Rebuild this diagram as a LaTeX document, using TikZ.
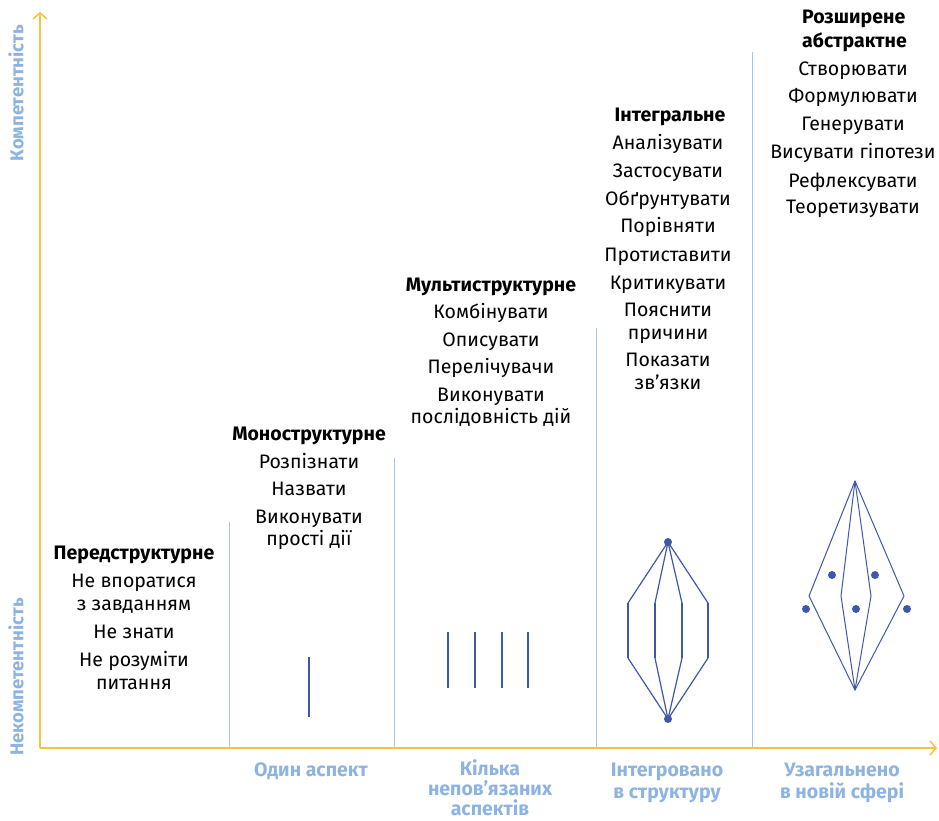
\documentclass[tikz,border=0pt]{standalone}
\usepackage{fontspec}
\setmainfont{Fira Sans}
\usetikzlibrary{arrows.meta}
\definecolor{axisyellow}{HTML}{F5C242}
\definecolor{labblue}{HTML}{8DB3E2}
\definecolor{divblue}{HTML}{A9C6E8}
\definecolor{shapeblue}{HTML}{3F57A8}
\tikzset{
 item/.style={font=\fontsize{19.5}{22}\selectfont, text=black, anchor=base, inner sep=0pt},
 head/.style={item, font=\bfseries\fontsize{19.5}{22}\selectfont},
 axlab/.style={text=labblue, font=\bfseries\fontsize{19.5}{22}\selectfont, anchor=base, inner sep=0pt},
 sidelab/.style={text=labblue, font=\bfseries\fontsize{18.5}{20}\selectfont, rotate=90, inner sep=0pt},
 divider/.style={draw=divblue, line width=0.8pt},
 shp/.style={draw=shapeblue, line width=1.2pt},
 shpthick/.style={draw=shapeblue, line width=2pt},
 dotnode/.style={circle, fill=shapeblue, inner sep=0pt, minimum size=8pt},
 axis/.style={draw=axisyellow, line width=1.3pt, -{Straight Barb[length=6pt,width=14pt,line width=1.5pt]}}
}
\begin{document}
\begin{tikzpicture}[x=1pt,y=-1pt]
\useasboundingbox (0,0) rectangle (939,821);
% axes
\coordinate (O) at (40,748);
\coordinate (Ytop) at (40,12);
\coordinate (Xend) at (937,748);
\draw[axis] (O) -- (Ytop);
\draw[axis] (O) -- (Xend);
% dividers
\foreach \n/\x/\y in {d1/229/522, d2/394/458, d3/596/328, d4/752/52}{
  \coordinate (\n a) at (\x,\y);
  \coordinate (\n b) at (\x,747);
  \draw[divider] (\n a) -- (\n b);
}
% side labels
\node[sidelab] (comp) at (16,93) {Компетентність};
\node[sidelab] (incomp) at (16,677) {Некомпетентність};
% bottom labels
\node[axlab] (b1) at (311,776) {Один аспект};
\node[axlab] (b2a) at (490,775) {Кілька};
\node[axlab] (b2b) at (490,795) {непов’язаних};
\node[axlab] (b2c) at (490,815) {аспектів};
\node[axlab] (b3a) at (667,776) {Інтегровано};
\node[axlab] (b3b) at (667,798) {в структуру};
\node[axlab] (b4a) at (842,776) {Узагальнено};
\node[axlab] (b4b) at (842,798) {в новій сфері};
% block 1
\node[head] (h1) at (134,559) {Передструктурне};
\foreach \i/\y/\t in {1/587/Не впоратися, 2/610/з завданням, 3/638/Не знати, 4/666/Не розуміти, 5/689/питання}{
  \node[item] (a\i) at (134,\y) {\t};
}
% block 2
\node[head] (h2) at (309,440) {Моноструктурне};
\foreach \i/\y/\t in {1/468/Розпізнати, 2/495/Назвати, 3/523/Виконувати, 4/545/прості дії}{
  \node[item] (m\i) at (309,\y) {\t};
}
% block 3
\node[head] (h3) at (491,291) {Мультиструктурне};
\foreach \i/\y/\t in {1/318/Комбінувати, 2/346/Описувати, 3/373/Перелічувачи, 4/401/Виконувати, 5/423/послідовність дій}{
  \node[item] (u\i) at (491,\y) {\t};
}
% block 4
\node[head] (h4) at (670,122) {Інтегральне};
\foreach \i/\y/\t in {1/150/Аналізувати, 2/178/Застосувати, 3/205/Обґрунтувати, 4/233/Порівняти, 5/261/Протиставити, 6/289/Критикувати, 7/316/Пояснити, 8/339/причини, 9/366/Показати, 10/389/зв’язки}{
  \node[item] (g\i) at (668,\y) {\t};
}
% block 5
\node[head, anchor=base west] (h5a) at (802,24) {Розширене};
\node[head, anchor=base west] (h5b) at (802,48) {абстрактне};
\foreach \i/\y/\t in {1/76/Створювати, 2/103/Формулювати, 3/131/Генерувати, 4/159/Висувати гіпотези, 5/187/Рефлексувати, 6/214/Теоретизувати}{
  \node[item] (e\i) at (853,\y) {\t};
}
% mono shape
\coordinate (ms1) at (309,657); \coordinate (ms2) at (309,717);
\draw[shpthick] (ms1) -- (ms2);
% multi shape
\foreach \i/\x in {1/448, 2/475, 3/502, 4/528}{
  \coordinate (mu\i a) at (\x,632); \coordinate (mu\i b) at (\x,688);
  \draw[shpthick] (mu\i a) -- (mu\i b);
}
% integral shape
\node[dotnode] (it) at (668,542) {};
\node[dotnode] (ib) at (668,719) {};
\foreach \i/\x in {1/628, 2/655, 3/682, 4/708}{
  \coordinate (iv\i a) at (\x,603); \coordinate (iv\i b) at (\x,658);
  \draw[shp] (it.center) -- (iv\i a);
  \draw[shpthick] (iv\i a) -- (iv\i b);
  \draw[shp] (iv\i b) -- (ib.center);
}
% extended abstract shape
\coordinate (et) at (855,481);
\coordinate (eb) at (855,690);
\coordinate (el) at (809,596);
\coordinate (er) at (904,596);
\coordinate (eil) at (841,596);
\coordinate (eir) at (871,596);
\draw[shp, line width=1pt, line join=round] (et) -- (el) -- (eb) -- (er) -- cycle;
\draw[shp, line width=1pt, line join=round] (et) -- (eil) -- (eb) -- (eir) -- cycle;
\node[dotnode] (ed1) at (832,575) {};
\node[dotnode] (ed2) at (875,575) {};
\node[dotnode] (ed3) at (806,609) {};
\node[dotnode] (ed4) at (856,609) {};
\node[dotnode] (ed5) at (907,609) {};
\end{tikzpicture}
\end{document}
